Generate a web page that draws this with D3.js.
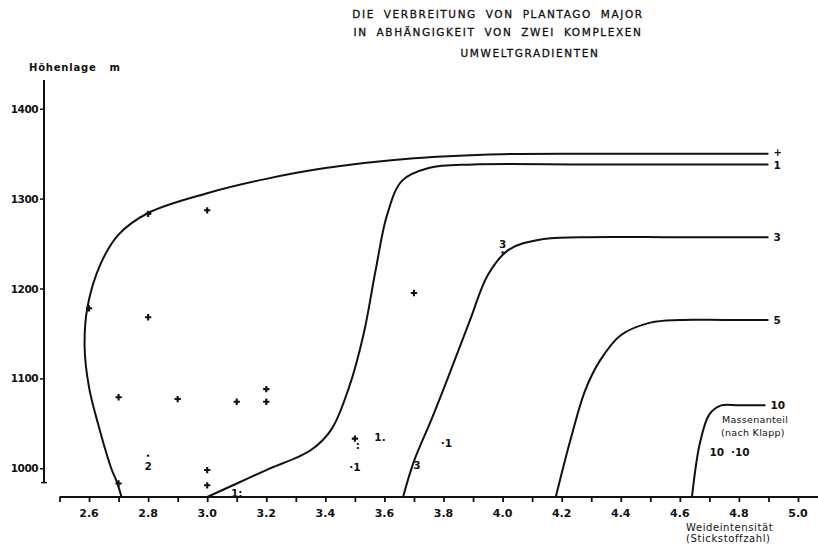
<!DOCTYPE html>
<html>
<head>
<meta charset="utf-8">
<script src="https://cdn.jsdelivr.net/npm/d3@7"></script>
<style>
  body { margin: 0; background: #fff; }
  text { font-family: "DejaVu Sans", sans-serif; fill: #111; white-space: pre; }
</style>
</head>
<body>
<svg id="chart" width="818" height="549"></svg>
<script>
// title lines
const titleLines = [
  "DIE VERBREITUNG VON PLANTAGO MAJOR",
  "IN ABHÄNGIGKEIT VON ZWEI KOMPLEXEN",
  "UMWELTGRADIENTEN"
];

// axis ticks
const xTicks = d3.range(25, 51).map(d => d / 10);
const xTickLabels = ["2.6", "2.8", "3.0", "3.2", "3.4", "3.6", "3.8", "4.0", "4.2", "4.4", "4.6", "4.8", "5.0"];
const yTicks = [1000, 1100, 1200, 1300, 1400];

// isolines of mass share (Massenanteil), [x, y]
const linePlus = [[2.71, 968], [2.695, 984], [2.675, 1000], [2.63, 1050], [2.60, 1090], [2.585, 1135],
  [2.595, 1180], [2.64, 1228], [2.70, 1260], [2.80, 1284], [3.0, 1306], [3.2, 1322], [3.4, 1334],
  [3.7, 1345], [4.0, 1349.5], [4.4, 1350], [4.9, 1350]];
const line1 = [[3.0, 968], [3.1, 983], [3.2, 998], [3.35, 1020], [3.42, 1043], [3.48, 1090],
  [3.53, 1150], [3.57, 1220], [3.61, 1283], [3.66, 1320], [3.75, 1334], [3.9, 1338], [4.3, 1338], [4.9, 1338]];
const line3 = [[3.663, 968], [3.70, 1008], [3.76, 1055], [3.82, 1105], [3.89, 1165], [3.95, 1215],
  [4.02, 1243], [4.12, 1254], [4.26, 1257], [4.6, 1257], [4.9, 1257]];
const line5 = [[4.18, 968], [4.23, 1032], [4.28, 1087], [4.33, 1120], [4.40, 1148], [4.50, 1162],
  [4.60, 1165], [4.75, 1165], [4.9, 1165]];
const line10 = [[4.641, 968], [4.668, 1028], [4.70, 1060], [4.74, 1070], [4.8, 1070], [4.89, 1070]];
const isolines = [
  {name: "+", pts: linePlus},
  {name: "1", pts: line1},
  {name: "3", pts: line3},
  {name: "5", pts: line5},
  {name: "10", pts: line10}
];

// sample points marked with a cross
const crossX = [2.6, 2.7, 2.7, 2.8, 2.8, 2.9, 3.0, 3.0, 3.0, 3.1, 3.2, 3.2, 3.7, 3.5];
const crossY = [1178, 1079, 983, 1283, 1168, 1077, 1287, 998, 981, 1074, 1088, 1074, 1195, 1033];

// sample points labelled with their mass share
const labelText = ["2", "1:", "·1", "1.", "3", "·1", "3", "10", "·10", ":"];
const labelX = [2.8, 3.1, 3.5, 3.585, 3.71, 3.81, 4.0, 4.725, 4.805, 3.51];
const labelY = [1003, 973, 1001, 1035, 1004, 1028, 1250, 1018, 1018, 1026];
const dotX = [2.8, 4.0];
const dotY = [1014, 1240];

const svg = d3.select("#chart");
const x = d3.scaleLinear().domain([2.5, 5.0]).range([59.5, 798]);
const y = d3.scaleLinear().domain([968, 1432]).range([497, 80]);

// title
svg.append("g").selectAll("text")
  .data(titleLines)
  .join("text")
  .attr("x", (d, i) => i === 2 ? 530 : 498)
  .attr("y", (d, i) => [18, 36, 57][i])
  .attr("text-anchor", "middle")
  .style("font-size", "10.5px")
  .style("letter-spacing", "1.6px")
  .style("word-spacing", "4px")
  .style("stroke", "#111").style("stroke-width", 0.3)
  .text(d => d);

// x axis
const xAxis = svg.append("g")
  .attr("transform", `translate(0,${y(968)})`)
  .call(d3.axisBottom(x).tickValues(xTicks).tickSize(5).tickSizeOuter(0).tickFormat(""));
xAxis.select(".domain").remove();
xAxis.selectAll(".tick line").attr("stroke", "#111").attr("stroke-width", 1.8);
xAxis.append("line")
  .attr("x1", x(2.5)).attr("x2", 818)
  .attr("stroke", "#111").attr("stroke-width", 2);
svg.append("g").selectAll("text")
  .data(xTickLabels)
  .join("text")
  .attr("x", d => x(+d))
  .attr("y", 517)
  .attr("text-anchor", "middle")
  .style("font-size", "11px")
  .style("font-weight", "bold")
  .text(d => d);
svg.append("text").attr("x", 686).attr("y", 531)
  .style("font-size", "10px").style("letter-spacing", "0.6px").text("Weideintensität");
svg.append("text").attr("x", 686).attr("y", 542)
  .style("font-size", "10px").style("letter-spacing", "0.6px").text("(Stickstoffzahl)");

// y axis
const yAxis = svg.append("g")
  .attr("transform", "translate(44,0)")
  .call(d3.axisLeft(y).tickValues(yTicks).tickSize(4).tickFormat(""));
yAxis.select(".domain").remove();
yAxis.selectAll(".tick line").attr("stroke", "#111").attr("stroke-width", 1.5);
yAxis.append("line").attr("y1", y(984)).attr("y2", y(1432))
  .attr("stroke", "#111").attr("stroke-width", 2);
yAxis.append("line").attr("x1", -3).attr("x2", 3).attr("y1", y(984)).attr("y2", y(984))
  .attr("stroke", "#111").attr("stroke-width", 1.5);
svg.append("g").selectAll("text")
  .data(yTicks)
  .join("text")
  .attr("x", 38)
  .attr("y", d => y(d) + 4)
  .attr("text-anchor", "end")
  .style("font-size", "10.5px")
  .style("font-weight", "bold")
  .style("letter-spacing", "-0.5px")
  .text(d => d);
svg.append("text").attr("x", 29).attr("y", 71)
  .style("font-size", "10px").style("font-weight", "bold").style("letter-spacing", "0.8px")
  .text("Höhenlage   m");

// isolines
const line = d3.line().x(d => x(d[0])).y(d => y(d[1])).curve(d3.curveCatmullRom.alpha(0.5));
svg.append("g").selectAll("path")
  .data(isolines)
  .join("path")
  .attr("d", d => line(d.pts))
  .attr("fill", "none")
  .attr("stroke", "#111")
  .attr("stroke-width", 2);
svg.append("g").selectAll("text")
  .data(isolines)
  .join("text")
  .attr("x", d => x(d.pts[d.pts.length - 1][0]) + 5)
  .attr("y", d => y(d.pts[d.pts.length - 1][1]) + (d.name === "+" ? 2 : d.name === "1" ? 5 : 4))
  .style("font-size", d => d.name === "+" ? "10px" : "10.5px")
  .style("font-weight", "bold")
  .text(d => d.name);
svg.append("text").attr("x", 722).attr("y", 423)
  .style("font-size", "9.5px").style("letter-spacing", "0.3px").text("Massenanteil");
svg.append("text").attr("x", 721).attr("y", 436)
  .style("font-size", "9.5px").style("letter-spacing", "0.3px").text("(nach Klapp)");

// crosses
const cross = d3.symbol().type(d3.symbolCross).size(22);
svg.append("g").selectAll("path")
  .data(crossX.map((d, i) => [d, crossY[i]]))
  .join("path")
  .attr("transform", d => `translate(${x(d[0])},${y(d[1])})`)
  .attr("d", cross)
  .attr("fill", "#111");

// labelled points
svg.append("g").selectAll("circle")
  .data(dotX.map((d, i) => [d, dotY[i]]))
  .join("circle")
  .attr("cx", d => x(d[0])).attr("cy", d => y(d[1])).attr("r", 1.2).attr("fill", "#111");
svg.append("g").selectAll("text")
  .data(labelText.map((d, i) => ({t: d, v: labelX[i], h: labelY[i]})))
  .join("text")
  .attr("x", d => x(d.v))
  .attr("y", d => y(d.h) + 4)
  .attr("text-anchor", "middle")
  .style("font-size", "10.5px")
  .style("font-weight", "bold")
  .text(d => d.t);
</script>
</body>
</html>
